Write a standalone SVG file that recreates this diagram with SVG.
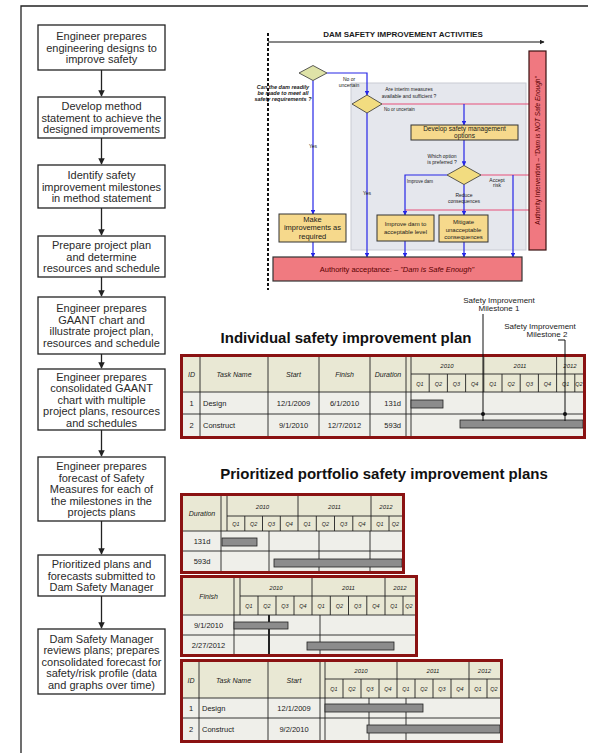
<svg xmlns="http://www.w3.org/2000/svg" width="589" height="753" viewBox="0 0 589 753">
<style>
text{font-family:"Liberation Sans",Arial,sans-serif;fill:#1a1a1a}
.fb{fill:#fff;stroke:#222;stroke-width:1.3}
.ft{font-size:11px;text-anchor:middle;fill:#2a2a2a}
.fl{stroke:#222;stroke-width:1.3;fill:none}
.bl{stroke:#2626e6;stroke-width:1.2;fill:none}
.pk{stroke:#e8507a;stroke-width:1.2;fill:none}
.yb{fill:#f6d98c;stroke:#333;stroke-width:1}
.dg{stroke:#333;stroke-width:0.8}
.sm{font-size:5px;text-anchor:middle}
.ob{fill:none;stroke:#8a1212;stroke-width:3}
.hd{fill:#e9e8d4}
.rw{fill:#efefea}
.gr{fill:none;stroke:#222;stroke-width:0.9}
.bar{fill:#8c8c8c;stroke:#222;stroke-width:0.8}
.th{font-size:7px;font-style:italic;text-anchor:middle}
.yr{font-size:6px;font-style:italic;text-anchor:middle}
.q{font-size:5.5px;font-style:italic;text-anchor:middle}
.td{font-size:7.5px;text-anchor:middle}
.tl{font-size:7.5px}
.ttl{font-size:15px;font-weight:bold;text-anchor:middle;fill:#111}
</style>
<defs>
<marker id="ah" viewBox="0 0 10 10" refX="9" refY="5" markerWidth="5" markerHeight="5" orient="auto"><path d="M0 0L10 5L0 10z" fill="#222"/></marker>
<marker id="ab" viewBox="0 0 10 10" refX="9" refY="5" markerWidth="4" markerHeight="4" orient="auto"><path d="M0 0L10 5L0 10z" fill="#2626e6"/></marker>
</defs>

<path d="M21 753V6H588" fill="none" stroke="#222" stroke-width="1.3"/>

<!-- left flowchart -->
<g id="connectors-left">
<path class="fl" d="M101.5 70V96" marker-end="url(#ah)"/>
<path class="fl" d="M101.5 138V164" marker-end="url(#ah)"/>
<path class="fl" d="M101.5 208V235" marker-end="url(#ah)"/>
<path class="fl" d="M101.5 277V296" marker-end="url(#ah)"/>
<path class="fl" d="M101.5 354V368" marker-end="url(#ah)"/>
<path class="fl" d="M101.5 430V456" marker-end="url(#ah)"/>
<path class="fl" d="M101.5 521V554" marker-end="url(#ah)"/>
<path class="fl" d="M101.5 596V628" marker-end="url(#ah)"/>
</g>
<g id="step1"><rect class="fb" x="38" y="25" width="127" height="45"/>
<text class="ft"><tspan x="101.5" y="40">Engineer prepares</tspan><tspan x="101.5" y="51.5">engineering designs to</tspan><tspan x="101.5" y="63">improve safety</tspan></text></g>
<g id="step2"><rect class="fb" x="38" y="97" width="127" height="41"/>
<text class="ft"><tspan x="101.5" y="110">Develop method</tspan><tspan x="101.5" y="121.5">statement to achieve the</tspan><tspan x="101.5" y="133">designed improvements</tspan></text></g>
<g id="step3"><rect class="fb" x="38" y="165" width="127" height="43"/>
<text class="ft"><tspan x="101.5" y="179">Identify safety</tspan><tspan x="101.5" y="190.5">improvement milestones</tspan><tspan x="101.5" y="202">in method statement</tspan></text></g>
<g id="step4"><rect class="fb" x="38" y="236" width="127" height="41"/>
<text class="ft"><tspan x="101.5" y="249">Prepare project plan</tspan><tspan x="101.5" y="260.5">and determine</tspan><tspan x="101.5" y="272">resources and schedule</tspan></text></g>
<g id="step5"><rect class="fb" x="38" y="297" width="127" height="57"/>
<text class="ft"><tspan x="101.5" y="312">Engineer prepares</tspan><tspan x="101.5" y="323.5">GAANT chart and</tspan><tspan x="101.5" y="335">illustrate project plan,</tspan><tspan x="101.5" y="346.5">resources and schedule</tspan></text></g>
<g id="step6"><rect class="fb" x="38" y="369" width="127" height="61"/>
<text class="ft"><tspan x="101.5" y="380.5">Engineer prepares</tspan><tspan x="101.5" y="392">consolidated GAANT</tspan><tspan x="101.5" y="403.5">chart with multiple</tspan><tspan x="101.5" y="415">project plans,  resources</tspan><tspan x="101.5" y="426.5">and schedules</tspan></text></g>
<g id="step7"><rect class="fb" x="38" y="457" width="127" height="64"/>
<text class="ft"><tspan x="101.5" y="470">Engineer prepares</tspan><tspan x="101.5" y="481.5">forecast of Safety</tspan><tspan x="101.5" y="493">Measures for each of</tspan><tspan x="101.5" y="504.5">the milestones in the</tspan><tspan x="101.5" y="516">projects plans</tspan></text></g>
<g id="step8"><rect class="fb" x="38" y="555" width="127" height="41"/>
<text class="ft"><tspan x="101.5" y="568">Prioritized plans and</tspan><tspan x="101.5" y="579.5">forecasts submitted to</tspan><tspan x="101.5" y="591">Dam Safety Manager</tspan></text></g>
<g id="step9"><rect class="fb" x="38" y="629" width="127" height="65"/>
<text class="ft"><tspan x="101.5" y="642.5">Dam Safety Manager</tspan><tspan x="101.5" y="654">reviews plans;  prepares</tspan><tspan x="101.5" y="665.5">consolidated forecast for</tspan><tspan x="101.5" y="677">safety/risk profile (data</tspan><tspan x="101.5" y="688.5">and graphs over time)</tspan></text></g>

<!-- top-right activity diagram -->
<g id="activities-frame">
<rect x="351" y="83" width="175" height="167" fill="#e5e7ed" stroke="#c9cbd3" stroke-width="1"/>
<path d="M268 33V290" stroke="#111" stroke-width="2" stroke-dasharray="3 2" fill="none"/>
<path d="M268 42H544" stroke="#111" stroke-width="1" fill="none" marker-end="url(#ah)"/>
<text x="403" y="37" font-size="8" font-weight="bold" text-anchor="middle">DAM SAFETY IMPROVEMENT ACTIVITIES</text>
</g>
<g id="activity-connectors">
<path class="pk" d="M382 104H529"/>
<path class="pk" d="M481 175H529"/>
<path class="pk" d="M405 210H529"/>
<path class="bl" d="M327 73H367V95" marker-end="url(#ab)"/>
<path class="bl" d="M313 80.5V214" marker-end="url(#ab)"/>
<path class="bl" d="M464 104V125" marker-end="url(#ab)"/>
<path class="bl" d="M464 140V165.5" marker-end="url(#ab)"/>
<path class="bl" d="M447 175H405V215" marker-end="url(#ab)"/>
<path class="bl" d="M464 184.5V215" marker-end="url(#ab)"/>
<path class="bl" d="M513 175V257" marker-end="url(#ab)"/>
<path class="bl" d="M367 113V257" marker-end="url(#ab)"/>
<path class="bl" d="M313 242V257" marker-end="url(#ab)"/>
<path class="bl" d="M405 241V257" marker-end="url(#ab)"/>
<path class="bl" d="M464 242V257" marker-end="url(#ab)"/>
<text class="sm"><tspan x="349" y="81">No or</tspan><tspan x="349" y="87">uncertain</tspan></text>
<text class="sm" x="313" y="148">Yes</text>
<text class="sm" x="367" y="195">Yes</text>
<text font-size="4.5" x="384" y="110.5">No or uncertain</text>
<text font-size="4.5" text-anchor="middle" x="420" y="183">Improve dam</text>
<text class="sm"><tspan x="497" y="181.5">Accept</tspan><tspan x="497" y="187">risk</tspan></text>
<text class="sm"><tspan x="464" y="197">Reduce</tspan><tspan x="464" y="203">consequences</tspan></text>
</g>
<g id="q-ready">
<polygon points="299,73 313,65.5 327,73 313,80.5" fill="#dfe3a8" class="dg"/>
<text font-size="5.5" font-weight="bold" font-style="italic" text-anchor="middle"><tspan x="283" y="89">Can the dam readily</tspan><tspan x="283" y="95">be made to meet all</tspan><tspan x="283" y="101">safety requirements ?</tspan></text>
</g>
<g id="q-interim">
<polygon points="352,104 367,95 382,104 367,113" fill="#f2dc80" class="dg"/>
<text class="sm"><tspan x="409" y="91">Are interim measures</tspan><tspan x="409" y="97.5">available and sufficient ?</tspan></text>
</g>
<g id="develop-options"><rect class="yb" x="411" y="125" width="107" height="15"/>
<text font-size="6.5" text-anchor="middle"><tspan x="464.5" y="131">Develop safety management</tspan><tspan x="464.5" y="138">options</tspan></text></g>
<g id="q-option">
<polygon points="447,175 464,165.5 481,175 464,184.5" fill="#f2dc80" class="dg"/>
<text class="sm"><tspan x="442" y="158">Which option</tspan><tspan x="442" y="164">is preferred ?</tspan></text>
</g>
<g id="make-improvements"><rect class="yb" x="279" y="214" width="67" height="28"/>
<text font-size="7.5" text-anchor="middle"><tspan x="312.5" y="222">Make</tspan><tspan x="312.5" y="230">improvements as</tspan><tspan x="312.5" y="238.5">required</tspan></text></g>
<g id="improve-dam"><rect class="yb" x="377" y="215" width="57" height="26"/>
<text font-size="6" text-anchor="middle"><tspan x="405.5" y="226">Improve dam to</tspan><tspan x="405.5" y="234">acceptable level</tspan></text></g>
<g id="mitigate"><rect class="yb" x="439" y="215" width="49" height="27"/>
<text font-size="6" text-anchor="middle"><tspan x="463.5" y="224">Mitigate</tspan><tspan x="463.5" y="231.5">unacceptable</tspan><tspan x="463.5" y="239">consequences</tspan></text></g>
<g id="authority-intervention"><rect x="529" y="51" width="17" height="199" fill="#f07880" stroke="#3a1010" stroke-width="1.2"/>
<text font-size="6.5" text-anchor="middle" style="fill:#5a0000" transform="translate(539.8 150.5) rotate(-90)">Authority Intervention – <tspan font-style="italic">"Dam is NOT Safe Enough"</tspan></text></g>
<g id="authority-acceptance"><rect x="273" y="257" width="249" height="24" fill="#f07a80" stroke="#333" stroke-width="1.2"/>
<text x="397" y="272" font-size="7.5" text-anchor="middle" style="fill:#5a0000">Authority acceptance:  – <tspan font-style="italic">"Dam is Safe Enough"</tspan></text></g>

<!-- Individual plan -->
<text class="ttl" x="346" y="343">Individual safety improvement plan</text>
<g id="milestone-labels">
<text font-size="8" text-anchor="middle"><tspan x="499" y="303">Safety Improvement</tspan><tspan x="499" y="311">Milestone 1</tspan></text>
<text font-size="8" text-anchor="middle"><tspan x="540" y="329">Safety Improvement</tspan><tspan x="547" y="337">Milestone 2</tspan></text>
</g>
<g id="table-individual">
<rect class="hd" x="183" y="357" width="400" height="35"/>
<rect class="rw" x="183" y="392" width="400" height="44"/>
<path class="gr" d="M183 392H583M183 414H583M411 374H583M200 357V436M268 357V436M319 357V436M370 357V436M406 357V436M411 357V436M483.8 357V392M556.6 357V392M429.2 374V392M447.4 374V392M465.6 374V392M502 374V392M520.2 374V392M538.4 374V392M574.8 374V392"/>
<rect class="bar" x="411" y="400" width="32" height="8"/>
<rect class="bar" x="460" y="420" width="123" height="8"/>
<rect class="ob" x="181.5" y="355.5" width="403" height="82"/>
<text class="th" x="191.5" y="377">ID</text><text class="th" x="234" y="377">Task Name</text><text class="th" x="293.5" y="377">Start</text><text class="th" x="344.5" y="377">Finish</text><text class="th" x="388" y="377">Duration</text>
<text class="yr" x="447" y="368">2010</text><text class="yr" x="520" y="368">2011</text><text class="yr" x="570" y="368">2012</text>
<text class="q"><tspan x="420" y="385.5">Q1</tspan><tspan x="438.3" y="385.5">Q2</tspan><tspan x="456.5" y="385.5">Q3</tspan><tspan x="474.7" y="385.5">Q4</tspan><tspan x="492.9" y="385.5">Q1</tspan><tspan x="511.1" y="385.5">Q2</tspan><tspan x="529.3" y="385.5">Q3</tspan><tspan x="547.5" y="385.5">Q4</tspan><tspan x="565.7" y="385.5">Q1</tspan><tspan x="579" y="385.5">Q2</tspan></text>
<text class="td" x="191.5" y="406">1</text><text class="tl" x="203" y="406">Design</text><text class="td" x="293.5" y="406">12/1/2009</text><text class="td" x="344.5" y="406">6/1/2010</text><text class="tl" x="401" y="406" text-anchor="end">131d</text>
<text class="td" x="191.5" y="428">2</text><text class="tl" x="203" y="428">Construct</text><text class="td" x="293.5" y="428">9/1/2010</text><text class="td" x="344.5" y="428">12/7/2012</text><text class="tl" x="401" y="428" text-anchor="end">593d</text>
</g>
<g id="milestone-markers">
<path d="M483 314V421M558 340H565V421" fill="none" stroke="#111" stroke-width="1"/>
<circle cx="483" cy="414" r="2" fill="#111"/><circle cx="565" cy="414" r="2" fill="#111"/>
</g>

<!-- Portfolio -->
<text class="ttl" x="384" y="479">Prioritized portfolio safety improvement plans</text>
<g id="table-duration">
<rect class="hd" x="183" y="496" width="219" height="35"/>
<rect class="rw" x="183" y="531" width="219" height="40"/>
<path class="gr" d="M183 531H402M183 551H402M227 516H402M221 496V571M227 496V531M298 496V531M371 496V531M244.8 516V531M262.5 516V531M280.3 516V531M316.3 516V531M334.5 516V531M352.8 516V531M389 516V531M269 531V571M319 531V571M370 531V571"/>
<rect class="bar" x="222" y="538" width="35" height="8"/>
<rect class="bar" x="274" y="559" width="128" height="8"/>
<rect class="ob" x="181.5" y="494.5" width="222" height="78"/>
<text class="th" x="202" y="516">Duration</text>
<text class="yr" x="262.5" y="509">2010</text><text class="yr" x="334.5" y="509">2011</text><text class="yr" x="386" y="509">2012</text>
<text class="q"><tspan x="236" y="526">Q1</tspan><tspan x="253.6" y="526">Q2</tspan><tspan x="271.4" y="526">Q3</tspan><tspan x="289.1" y="526">Q4</tspan><tspan x="307.1" y="526">Q1</tspan><tspan x="325.4" y="526">Q2</tspan><tspan x="343.6" y="526">Q3</tspan><tspan x="361.9" y="526">Q4</tspan><tspan x="380" y="526">Q1</tspan><tspan x="395.5" y="526">Q2</tspan></text>
<text class="td" x="202" y="544">131d</text><text class="td" x="202" y="564">593d</text>
</g>
<g id="table-finish">
<rect class="hd" x="183" y="578" width="232" height="37"/>
<rect class="rw" x="183" y="615" width="232" height="39"/>
<path class="gr" d="M183 615H415M183 635H415M240 596H415M234 578V654M240 578V615M312 578V615M385 578V615M258 596V615M276 596V615M294 596V615M330.3 596V615M348.5 596V615M366.8 596V615M403 596V615M320 615V654"/>
<path d="M269 615V654" stroke="#222" stroke-width="2"/>
<rect class="bar" x="234" y="622" width="54" height="7"/>
<rect class="bar" x="307" y="642" width="87" height="8"/>
<rect class="ob" x="181.5" y="576.5" width="235" height="79"/>
<text class="th" x="208.5" y="599">Finish</text>
<text class="yr" x="276" y="590">2010</text><text class="yr" x="348.5" y="590">2011</text><text class="yr" x="400" y="590">2012</text>
<text class="q"><tspan x="249" y="608">Q1</tspan><tspan x="267" y="608">Q2</tspan><tspan x="285" y="608">Q3</tspan><tspan x="303" y="608">Q4</tspan><tspan x="321.1" y="608">Q1</tspan><tspan x="339.4" y="608">Q2</tspan><tspan x="357.6" y="608">Q3</tspan><tspan x="375.9" y="608">Q4</tspan><tspan x="394" y="608">Q1</tspan><tspan x="409" y="608">Q2</tspan></text>
<text class="td" x="208.5" y="628">9/1/2010</text><text class="td" x="208.5" y="648">2/27/2012</text>
</g>
<g id="table-start">
<rect class="hd" x="183" y="662" width="317" height="36"/>
<rect class="rw" x="183" y="698" width="317" height="42"/>
<path class="gr" d="M183 698H500M183 718H500M325 679H500M199 662V740M268 662V740M320 662V740M325 662V740M397 662V698M469 662V698M343 679V698M361 679V698M379 679V698M415 679V698M433 679V698M451 679V698M487 679V698M369 698V740M406 698V740"/>
<rect class="bar" x="325" y="704" width="98" height="8"/>
<rect class="bar" x="367" y="725" width="133" height="8"/>
<rect class="ob" x="181.5" y="660.5" width="320" height="81"/>
<text class="th" x="191" y="683">ID</text><text class="th" x="233.5" y="683">Task Name</text><text class="th" x="294" y="683">Start</text>
<text class="yr" x="361" y="673">2010</text><text class="yr" x="433" y="673">2011</text><text class="yr" x="484.5" y="673">2012</text>
<text class="q"><tspan x="334" y="691">Q1</tspan><tspan x="352" y="691">Q2</tspan><tspan x="370" y="691">Q3</tspan><tspan x="388" y="691">Q4</tspan><tspan x="406" y="691">Q1</tspan><tspan x="424" y="691">Q2</tspan><tspan x="442" y="691">Q3</tspan><tspan x="460" y="691">Q4</tspan><tspan x="478" y="691">Q1</tspan><tspan x="494" y="691">Q2</tspan></text>
<text class="td" x="191" y="711">1</text><text class="tl" x="202" y="711">Design</text><text class="td" x="294" y="711">12/1/2009</text>
<text class="td" x="191" y="732">2</text><text class="tl" x="202" y="732">Construct</text><text class="td" x="294" y="732">9/2/2010</text>
</g>
</svg>
